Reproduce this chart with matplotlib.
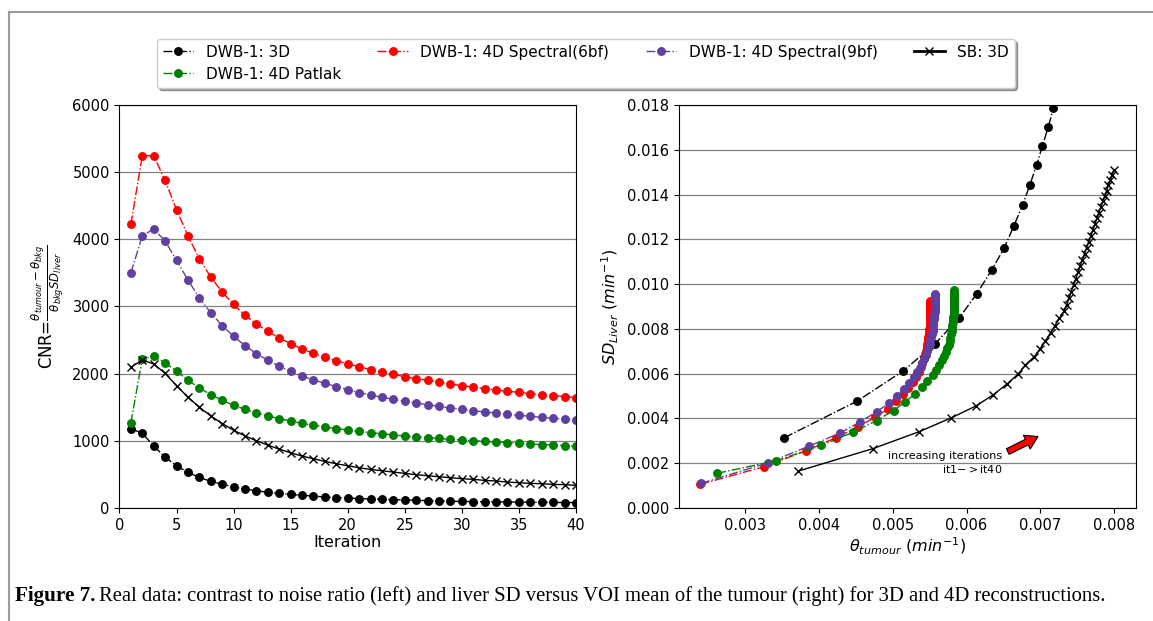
import matplotlib
matplotlib.use('Agg')
import matplotlib.pyplot as plt
from matplotlib.lines import Line2D

# ---- left panel: CNR vs iteration ----
iterations = list(range(1, 41))
cnr_dwb_3d = [1178, 1114, 921, 757, 629, 530, 455, 396, 356, 312,
              282, 257, 233, 218, 203, 188, 178, 163, 153, 149,
              139, 134, 129, 124, 119, 114, 109, 104, 99, 97,
              95, 93, 91, 89, 87, 85, 84, 82, 81, 80]
cnr_dwb_6bf = [4224, 5244, 5244, 4876, 4443, 4050, 3711, 3438, 3214, 3030,
               2868, 2739, 2630, 2531, 2447, 2367, 2303, 2243, 2194, 2144,
               2104, 2060, 2025, 1990, 1955, 1926, 1901, 1871, 1846, 1821,
               1801, 1777, 1757, 1737, 1722, 1702, 1687, 1672, 1657, 1643]
cnr_dwb_9bf = [3498, 4050, 4154, 3975, 3687, 3393, 3129, 2905, 2715, 2556,
               2417, 2298, 2199, 2109, 2035, 1965, 1906, 1856, 1806, 1762,
               1717, 1682, 1648, 1618, 1588, 1563, 1538, 1514, 1489, 1469,
               1449, 1429, 1414, 1395, 1380, 1365, 1350, 1335, 1325, 1310]
cnr_dwb_patlak = [1267, 2218, 2258, 2164, 2035, 1901, 1787, 1688, 1603, 1529,
                  1469, 1414, 1370, 1330, 1295, 1260, 1231, 1206, 1181, 1161,
                  1141, 1121, 1106, 1087, 1072, 1057, 1047, 1037, 1022, 1012,
                  1002, 992, 983, 973, 963, 953, 943, 938, 928, 918]
cnr_sb_3d = [2094, 2203, 2144, 2005, 1822, 1649, 1500, 1371, 1257, 1158,
             1074, 1000, 936, 876, 822, 772, 733, 693, 658, 629,
             599, 574, 554, 535, 515, 495, 480, 465, 450, 436,
             426, 411, 401, 386, 376, 366, 361, 351, 347, 337]

# ---- right panel: SD liver vs tumour mean ----
theta_dwb_3d = [0.00353, 0.00452, 0.00514, 0.00557, 0.00590, 0.00614, 0.00634, 0.00651,
                0.00664, 0.00676, 0.00686, 0.00695, 0.00703, 0.00711, 0.00718]
sd_dwb_3d = [0.00314, 0.00478, 0.00612, 0.00732, 0.00849, 0.00957, 0.01062, 0.01160,
             0.01258, 0.01352, 0.01443, 0.01531, 0.01617, 0.01703, 0.01785]

theta_dwb_6bf = [0.00239, 0.00325, 0.00382, 0.00423, 0.00453, 0.00476, 0.00493, 0.00505,
                 0.00514, 0.00521, 0.00527, 0.00531, 0.00535, 0.00538, 0.00540, 0.00542,
                 0.00544, 0.00545, 0.00546, 0.00547, 0.00548, 0.00548, 0.00549, 0.00549,
                 0.00549, 0.00550, 0.00550, 0.00550, 0.00550, 0.00550, 0.00550, 0.00550,
                 0.00550, 0.00550, 0.00550, 0.00550, 0.00550, 0.00550, 0.00550, 0.00550]
sd_dwb_6bf = [0.00106, 0.00184, 0.00255, 0.00314, 0.00363, 0.00405, 0.00442, 0.00477,
              0.00508, 0.00536, 0.00562, 0.00586, 0.00608, 0.00629, 0.00649, 0.00668,
              0.00686, 0.00703, 0.00719, 0.00734, 0.00748, 0.00762, 0.00775, 0.00788,
              0.00800, 0.00812, 0.00823, 0.00834, 0.00844, 0.00854, 0.00863, 0.00872,
              0.00881, 0.00889, 0.00897, 0.00904, 0.00911, 0.00917, 0.00921, 0.00925]

theta_dwb_9bf = [0.00240, 0.00331, 0.00387, 0.00428, 0.00456, 0.00478, 0.00495, 0.00506,
                 0.00515, 0.00522, 0.00529, 0.00533, 0.00537, 0.00540, 0.00543, 0.00545,
                 0.00547, 0.00549, 0.00550, 0.00551, 0.00552, 0.00553, 0.00554, 0.00554,
                 0.00555, 0.00555, 0.00556, 0.00556, 0.00556, 0.00557, 0.00557, 0.00557,
                 0.00557, 0.00557, 0.00557, 0.00557, 0.00557, 0.00557, 0.00557, 0.00557]
sd_dwb_9bf = [0.00110, 0.00202, 0.00277, 0.00334, 0.00385, 0.00430, 0.00468, 0.00500,
              0.00530, 0.00560, 0.00584, 0.00606, 0.00627, 0.00647, 0.00666, 0.00684,
              0.00701, 0.00718, 0.00734, 0.00749, 0.00764, 0.00778, 0.00792, 0.00805,
              0.00818, 0.00830, 0.00842, 0.00853, 0.00864, 0.00875, 0.00885, 0.00895,
              0.00904, 0.00913, 0.00921, 0.00929, 0.00936, 0.00943, 0.00950, 0.00956]

theta_dwb_patlak = [0.00262, 0.00342, 0.00403, 0.00446, 0.00478, 0.00501, 0.00517, 0.00530,
                    0.00539, 0.00547, 0.00554, 0.00559, 0.00563, 0.00567, 0.00570, 0.00572,
                    0.00574, 0.00576, 0.00577, 0.00578, 0.00579, 0.00580, 0.00581, 0.00581,
                    0.00582, 0.00582, 0.00582, 0.00583, 0.00583, 0.00583, 0.00583, 0.00583,
                    0.00583, 0.00583, 0.00583, 0.00583, 0.00583, 0.00583, 0.00583, 0.00583]
sd_dwb_patlak = [0.00155, 0.00211, 0.00280, 0.00338, 0.00390, 0.00435, 0.00475, 0.00509,
                 0.00542, 0.00569, 0.00594, 0.00617, 0.00639, 0.00659, 0.00678, 0.00696,
                 0.00713, 0.00730, 0.00746, 0.00761, 0.00776, 0.00790, 0.00804, 0.00817,
                 0.00830, 0.00842, 0.00854, 0.00865, 0.00876, 0.00887, 0.00897, 0.00907,
                 0.00917, 0.00926, 0.00935, 0.00943, 0.00951, 0.00959, 0.00966, 0.00973]

theta_sb_3d = [0.00372, 0.00473, 0.00536, 0.00579, 0.00613, 0.00636, 0.00655, 0.00670,
               0.00680, 0.00692, 0.00700, 0.00707, 0.00714, 0.00720, 0.00726, 0.00732,
               0.00736, 0.007391, 0.007422, 0.007453, 0.007483, 0.007513, 0.007543, 0.007572,
               0.007601, 0.007630, 0.007658, 0.007687, 0.007714, 0.007742, 0.007769, 0.007796,
               0.007823, 0.007849, 0.007875, 0.007901, 0.007926, 0.007951, 0.007976, 0.008000]
sd_sb_3d = [0.00165, 0.00265, 0.00341, 0.00402, 0.00456, 0.00505, 0.00554, 0.00598,
            0.00639, 0.00676, 0.00712, 0.00747, 0.00782, 0.00814, 0.00847, 0.00878,
            0.00908, 0.009375, 0.009667, 0.009956, 0.010242, 0.010525, 0.010805, 0.011082,
            0.011356, 0.011627, 0.011895, 0.012160, 0.012422, 0.012682, 0.012939, 0.013193,
            0.013444, 0.013692, 0.013937, 0.014179, 0.014418, 0.014654, 0.014887, 0.015117]

labels = ['DWB-1: 3D', 'DWB-1: 4D Patlak', 'DWB-1: 4D Spectral(6bf)',
          'DWB-1: 4D Spectral(9bf)', 'SB: 3D']
PURPLE = '#5f3f9f'

plt.rcParams['font.family'] = 'DejaVu Sans'
plt.rcParams['mathtext.fontset'] = 'dejavusans'

fig = plt.figure(figsize=(11.53, 6.21), dpi=100)
ax1 = fig.add_axes([0.1036, 0.182, 0.3959, 0.649])
ax2 = fig.add_axes([0.5889, 0.182, 0.3964, 0.649])

ms = 5.4
ax1.plot(iterations, cnr_dwb_3d, color='black', ls='-.', lw=1, marker='o', ms=ms)
ax1.plot(iterations, cnr_dwb_6bf, color='red', ls='-.', lw=1, marker='o', ms=ms)
ax1.plot(iterations, cnr_dwb_9bf, color=PURPLE, ls='-.', lw=1, marker='o', ms=ms)
ax1.plot(iterations, cnr_dwb_patlak, color='green', ls='-.', lw=1, marker='o', ms=ms)
ax1.plot(iterations, cnr_sb_3d, color='black', ls='-', lw=1, marker='x', ms=ms)
ax1.set_xlim(0, 40)
ax1.set_ylim(0, 6000)
ax1.set_xlabel('Iteration', fontsize=11.5, labelpad=2)
ax1.set_ylabel(r'CNR=$\frac{\theta_{tumour}-\theta_{bkg}}{\theta_{bkg}SD_{liver}}$', fontsize=12)

ax2.plot(theta_dwb_3d, sd_dwb_3d, color='black', ls='-.', lw=1, marker='o', ms=ms)
ax2.plot(theta_dwb_6bf, sd_dwb_6bf, color='red', ls='-.', lw=1, marker='o', ms=ms)
ax2.plot(theta_dwb_9bf, sd_dwb_9bf, color=PURPLE, ls='-.', lw=1, marker='o', ms=ms)
ax2.plot(theta_dwb_patlak, sd_dwb_patlak, color='green', ls='-.', lw=1, marker='o', ms=ms)
ax2.plot(theta_sb_3d, sd_sb_3d, color='black', ls='-', lw=1, marker='x', ms=ms)
ax2.set_xlim(0.0021, 0.0083)
ax2.set_ylim(0, 0.018)
ax2.set_xticks([0.003, 0.004, 0.005, 0.006, 0.007, 0.008])
ax2.set_yticks([0.000, 0.002, 0.004, 0.006, 0.008, 0.010, 0.012, 0.014, 0.016, 0.018])
ax2.set_xlabel(r'$\theta_{tumour}$ $(min^{-1})$', fontsize=11.5, labelpad=2)
ax2.set_ylabel(r'$SD_{Liver}$ $(min^{-1})$', fontsize=11.5)

ax2.text(0.00649, 0.00199, 'increasing iterations\nit1$->$it40', fontsize=8,
         ha='right', va='center', multialignment='right')
ax2.annotate('', xy=(0.00697, 0.00319), xytext=(0.00656, 0.00252),
             arrowprops=dict(facecolor='red', edgecolor='black', lw=0.8,
                             width=4.5, headwidth=11, headlength=9, shrink=0))

for ax in (ax1, ax2):
    ax.yaxis.grid(True, color='gray', lw=0.9)
    ax.set_axisbelow(True)
    ax.tick_params(labelsize=10.5)

handles = [
    Line2D([], [], color='black', ls='-.', lw=1, marker='o', ms=ms),
    Line2D([], [], color='green', ls='-.', lw=1, marker='o', ms=ms),
    Line2D([], [], color='red', ls='-.', lw=1, marker='o', ms=ms),
    Line2D([], [], color=PURPLE, ls='-.', lw=1, marker='o', ms=ms),
    Line2D([], [], color='black', ls='-', lw=2, marker='x', ms=ms),
]
fig.legend(handles, labels, ncol=4, loc='upper center', bbox_to_anchor=(0.508, 0.950),
           fontsize=11, shadow=True, fancybox=True, labelspacing=0.45,
           handlelength=2.0, columnspacing=2.4)

# page frame lines
fig.add_artist(Line2D([9 / 1153, 9 / 1153], [0, 1 - 12 / 621], transform=fig.transFigure,
                      color='#9a9a9a', lw=1.5))
fig.add_artist(Line2D([9 / 1153, 1], [1 - 12 / 621, 1 - 12 / 621], transform=fig.transFigure,
                      color='#9a9a9a', lw=1.5))

# caption
cap_y = 1 - 596 / 621
t1 = fig.text(15 / 1153, cap_y, 'Figure 7.', fontsize=15.2, fontweight='bold',
              family='Liberation Serif', va='center')
renderer = fig.canvas.get_renderer()
bb = t1.get_window_extent(renderer)
fig.text((bb.x1 + 4) / 1153, cap_y,
         'Real data: contrast to noise ratio (left) and liver SD versus VOI mean of the '
         'tumour (right) for 3D and 4D reconstructions.',
         fontsize=14.85, family='Liberation Serif', va='center')

fig.savefig('out.png', dpi=100)
